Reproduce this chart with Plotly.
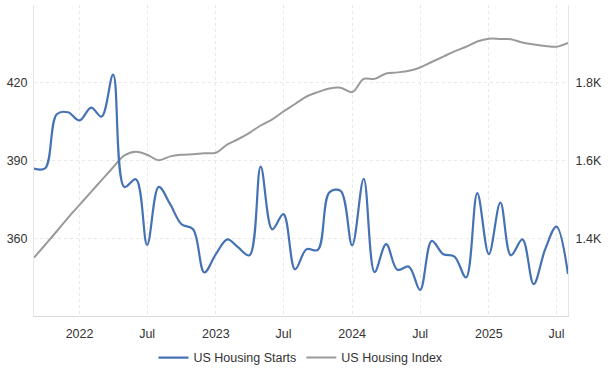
import plotly.graph_objects as go
import pandas as pd

months = pd.date_range("2021-09-01", "2025-08-01", freq="MS")

housing_starts = [
    1579, 1580, 1719, 1724, 1703, 1736, 1713, 1821, 1532, 1552, 1383, 1532,
    1487, 1436, 1423, 1312, 1359, 1397, 1377, 1356, 1584, 1423, 1462, 1320,
    1372, 1370, 1518, 1522, 1382, 1553, 1313, 1385, 1319, 1327, 1267, 1393,
    1359, 1353, 1299, 1516, 1359, 1492, 1356, 1397, 1282, 1372, 1430, 1308,
]

housing_index = [
    352.5, 357.5, 362.7, 367.9, 372.9, 377.9, 382.4, 387.4, 392.0, 393.4, 392.2, 390.1,
    391.6, 392.2, 392.4, 392.8, 393.0, 396.2, 398.2, 400.7, 403.5, 405.9, 408.9, 411.8,
    414.7, 416.4, 417.8, 418.1, 416.4, 421.5, 421.5, 423.6, 424.0, 424.6, 425.9, 428.0,
    430.1, 432.1, 433.9, 435.9, 437.0, 436.9, 436.8, 435.5, 434.8, 434.2, 433.9, 435.4,
]

x_tick_dates = ["2022-01-01", "2022-07-01", "2023-01-01", "2023-07-01",
                "2024-01-01", "2024-07-01", "2025-01-01", "2025-07-01"]
x_tick_text = ["2022", "Jul", "2023", "Jul", "2024", "Jul", "2025", "Jul"]

left_ticks = [330, 360, 390, 420, 450]
left_text = ["", "360", "390", "420", ""]
right_ticks = [1400, 1600, 1800]
right_text = ["1.4K", "1.6K", "1.8K"]

BLUE = "#4472b4"
GRAY = "#9a9a9a"

fig = go.Figure()
fig.add_trace(go.Scatter(
    x=months, y=housing_starts, name="US Housing Starts", yaxis="y2",
    mode="lines", line=dict(color=BLUE, width=2.2, shape="spline", smoothing=1.0),
))
fig.add_trace(go.Scatter(
    x=months, y=housing_index, name="US Housing Index", yaxis="y",
    mode="lines", line=dict(color=GRAY, width=2, shape="spline", smoothing=1.0),
))

font = dict(family="Liberation Sans, Arial, sans-serif", size=12.5, color="#333333")

fig.update_layout(
    width=608, height=375,
    margin=dict(l=34, r=40, t=5, b=59, autoexpand=False),
    paper_bgcolor="white", plot_bgcolor="white",
    font=font,
    showlegend=True,
    legend=dict(orientation="h", x=0.5, xanchor="center", y=-0.135, yanchor="middle",
                font=font, itemwidth=30, traceorder="normal"),
    xaxis=dict(
        range=["2021-09-01", "2025-08-01"],
        tickvals=x_tick_dates, ticktext=x_tick_text,
        showgrid=True, gridcolor="#e8e8e8", griddash="dot", gridwidth=1,
        showline=True, linecolor="#d9d9d9", linewidth=1,
        ticks="", ticklabelstandoff=6, zeroline=False, automargin=False,
    ),
    yaxis=dict(
        range=[330, 450], tickvals=left_ticks, ticktext=left_text,
        showgrid=True, gridcolor="#e8e8e8", griddash="dot", gridwidth=1,
        showline=True, linecolor="#e6e6e6", linewidth=1,
        ticks="", zeroline=False, automargin=False, ticklabelstandoff=3,
    ),
    yaxis2=dict(
        range=[1200, 2000], tickvals=right_ticks, ticktext=right_text,
        overlaying="y", side="right", showgrid=False,
        showline=True, linecolor="#e6e6e6", linewidth=1,
        ticks="", zeroline=False, automargin=False, ticklabelstandoff=4,
    ),
)

fig.write_html("out.html", config={"displayModeBar": False},
               post_script="document.body.style.margin='0';")
